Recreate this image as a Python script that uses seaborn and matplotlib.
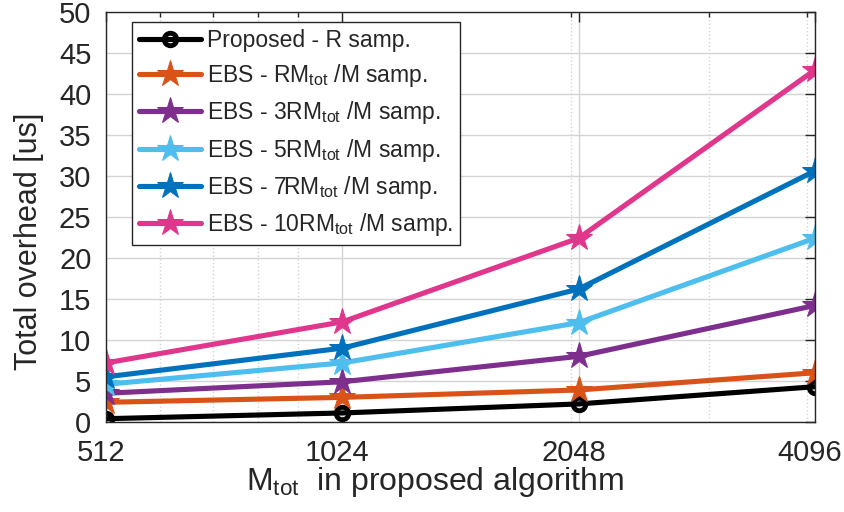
import numpy as np
import pandas as pd
import matplotlib
matplotlib.use("Agg")
import matplotlib.pyplot as plt
import matplotlib.ticker as mticker
import matplotlib.transforms as mtrans
import seaborn as sns

m_tot = [512, 1024, 2048, 4096]
proposed = [0.4, 1.1, 2.2, 4.3]
ebs_1 = [2.4, 3.0, 3.9, 6.0]
ebs_3 = [3.5, 4.9, 8.0, 14.2]
ebs_5 = [4.6, 7.2, 12.1, 22.4]
ebs_7 = [5.5, 9.0, 16.2, 30.6]
ebs_10 = [7.2, 12.2, 22.4, 42.9]
labels = [
    "Proposed - R samp.",
    r"EBS - RM$_{\mathrm{tot}}$ /M samp.",
    r"EBS - 3RM$_{\mathrm{tot}}$ /M samp.",
    r"EBS - 5RM$_{\mathrm{tot}}$ /M samp.",
    r"EBS - 7RM$_{\mathrm{tot}}$ /M samp.",
    r"EBS - 10RM$_{\mathrm{tot}}$ /M samp.",
]
series = [proposed, ebs_1, ebs_3, ebs_5, ebs_7, ebs_10]
colors = ["#000000", "#D95319", "#7E2F8E", "#4DBEEE", "#0072BD", "#E0368C"]
yticks = list(range(0, 55, 5))

sns.set_theme(style="white")
plt.rcParams["font.family"] = ["Liberation Sans", "DejaVu Sans"]
plt.rcParams["mathtext.fontset"] = "custom"
plt.rcParams["mathtext.rm"] = "Liberation Sans"
plt.rcParams["mathtext.default"] = "regular"

fig = plt.figure(figsize=(8.44, 5.12), dpi=100)
ax = fig.add_axes([0.1256, 0.1758, 0.8400, 0.8014])

for i, (vals, lab, col) in enumerate(zip(series, labels, colors)):
    df = pd.DataFrame({"x": m_tot, "y": vals})
    if i == 0:
        sns.lineplot(data=df, x="x", y="y", ax=ax, color=col, lw=3.7,
                     marker="o", markersize=9, markerfacecolor="none",
                     markeredgecolor=col, markeredgewidth=3.5, label=lab)
    else:
        sns.lineplot(data=df, x="x", y="y", ax=ax, color=col, lw=3.7,
                     marker="*", markersize=20, markeredgecolor=col,
                     markerfacecolor=col, label=lab)

ax.set_xscale("log", base=2)
ax.set_xlim(512, 4096)
ax.set_ylim(0, 50)
ax.xaxis.set_major_locator(mticker.FixedLocator(m_tot))
ax.xaxis.set_major_formatter(mticker.FixedFormatter([str(v) for v in m_tot]))
ax.xaxis.set_minor_locator(mticker.LogLocator(base=10, subs=np.arange(2, 10)))
ax.xaxis.set_minor_formatter(mticker.NullFormatter())
ax.set_yticks(yticks)

ax.grid(True, which="major", color="#d4d4d4", lw=1.0, ls="-")
ax.grid(True, which="minor", axis="x", color="#d4d4d4", lw=1.0, ls=":")
ax.set_axisbelow(True)

ax.tick_params(axis="both", which="both", direction="in", top=True, right=True,
               colors="#262626", labelcolor="#262626")
ax.tick_params(axis="both", which="major", length=7, width=1, labelsize=21)
ax.tick_params(axis="x", which="minor", length=3.5, width=1)
ax.tick_params(axis="x", pad=12.5)
ax.tick_params(axis="y", pad=10.5)
shift = mtrans.ScaledTranslation(-5 / 100, 0, fig.dpi_scale_trans)
for t in ax.get_xticklabels():
    t.set_transform(t.get_transform() + shift)
for s in ax.spines.values():
    s.set_color("#262626")
    s.set_linewidth(1)

ax.set_xlabel(r"M$_{\mathrm{tot}}$  in proposed algorithm", fontsize=23,
              color="#262626")
ax.xaxis.set_label_coords(0.464, -0.105)
ax.xaxis.label.set_va("top")
ax.set_ylabel("Total overhead [us]", fontsize=22, color="#262626")
ax.yaxis.set_label_coords(-0.0875, 0.44)

leg = ax.legend(loc="upper left", bbox_to_anchor=(0.0367, 0.975), fontsize=16.5,
                frameon=True, fancybox=False, edgecolor="#262626",
                handlelength=2.7, borderpad=0.3, labelspacing=0.45,
                handletextpad=0.26, borderaxespad=0)
leg.get_frame().set_linewidth(1)
leg.get_frame().set_facecolor("white")
leg.get_frame().set_alpha(1)

fig.savefig("out.png", dpi=100)
